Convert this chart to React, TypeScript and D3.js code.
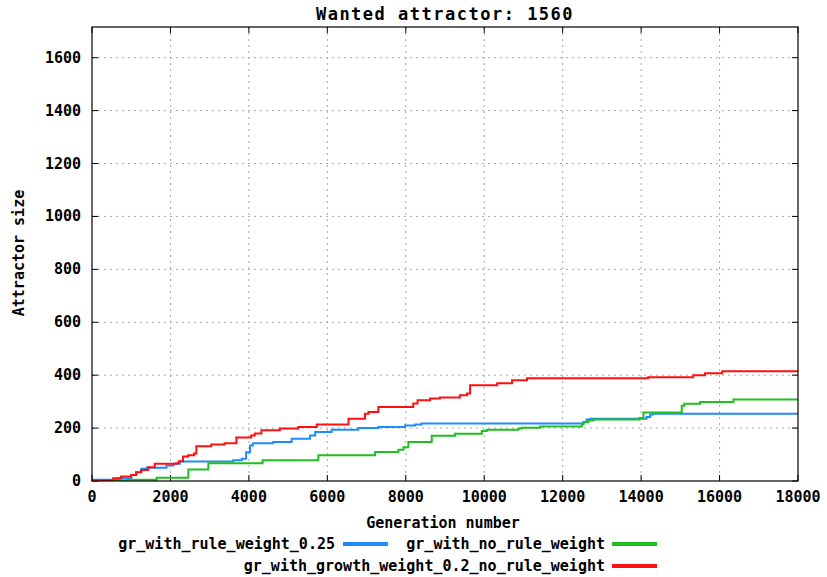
import React from "react";
import * as d3 from "d3";

const title = "Wanted attractor: 1560";
const xTicks = [0, 2000, 4000, 6000, 8000, 10000, 12000, 14000, 16000, 18000];
const yTicks = [0, 200, 400, 600, 800, 1000, 1200, 1400, 1600];

const blueData: [number, number][] = [
  [0, 5], [700, 10], [1000, 23], [1130, 33], [1260, 46], [1390, 50], [1900, 59], [2080, 65],
  [2240, 74], [3600, 78], [3820, 84], [3930, 109], [4030, 134], [4100, 143], [4620, 147],
  [5090, 160], [5560, 172], [5690, 185], [6110, 194], [6790, 200], [7300, 204], [7980, 210],
  [8240, 214], [8400, 217], [12530, 222], [12610, 232], [12700, 235], [14140, 242],
  [14230, 251], [14300, 254], [18000, 254],
];
const greenData: [number, number][] = [
  [0, 3], [920, 5], [1650, 12], [2457, 43], [2967, 67], [4350, 78], [5772, 97], [7217, 110],
  [7812, 118], [7940, 128], [8066, 147], [8662, 171], [9256, 179], [9937, 189], [10065, 194],
  [10871, 198], [10955, 201], [11424, 206], [12487, 214], [12530, 223], [12657, 229],
  [12784, 232], [13957, 238], [14060, 259], [15036, 284], [15100, 292], [15504, 299],
  [16354, 308], [18000, 308],
];
const redData: [number, number][] = [
  [0, 2], [540, 10], [740, 17], [1000, 23], [1125, 33], [1250, 42], [1430, 52], [1600, 65],
  [2150, 67], [2210, 75], [2320, 93], [2450, 97], [2600, 104], [2660, 131], [3040, 138],
  [3380, 143], [3680, 164], [4060, 172], [4150, 180], [4320, 192], [4790, 198], [5260, 204],
  [5730, 214], [6540, 235], [6960, 254], [7050, 261], [7300, 280], [8190, 293], [8300, 305],
  [8620, 312], [8870, 316], [9380, 324], [9560, 331], [9640, 362], [10330, 369], [10710, 381],
  [11090, 388], [14180, 392], [15330, 400], [15630, 407], [16070, 415], [18000, 415],
];

const seriesNames = [
  "gr_with_rule_weight_0.25",
  "gr_with_no_rule_weight",
  "gr_with_growth_weight_0.2_no_rule_weight",
];
const seriesColors = ["#1e8cff", "#1fbf1f", "#ff1010"];

export default function App() {
  const W = 827, H = 577;
  const L = 92, R = 798, T = 27, B = 481;
  const x = d3.scaleLinear().domain([0, 18000]).range([L, R]);
  const y = d3.scaleLinear().domain([0, 1716]).range([B, T]);
  const line = d3
    .line<[number, number]>()
    .x((d) => x(d[0]))
    .y((d) => y(d[1]))
    .curve(d3.curveStepAfter);
  const all = [blueData, greenData, redData];
  const font = "'DejaVu Sans Mono', monospace";
  const legend = [
    { tx: 335, lx: 343, y: 544 },
    { tx: 605, lx: 612, y: 544 },
    { tx: 605, lx: 612, y: 566 },
  ];
  return (
    <svg
      width={W}
      height={H}
      style={{ position: "absolute", left: 0, top: 0, background: "#fff" }}
      fontFamily={font}
      fontWeight="bold"
    >
      <rect x={0} y={0} width={W} height={H} fill="#fff" />
      <defs>
        <clipPath id="plot">
          <rect x={L} y={T} width={R - L} height={B - T} />
        </clipPath>
      </defs>
      {/* grid */}
      {xTicks.slice(1, -1).map((t) => (
        <line key={"gx" + t} x1={x(t)} x2={x(t)} y1={T} y2={B} stroke="#a8a8a8" strokeDasharray="2,4" />
      ))}
      {yTicks.slice(1).map((t) => (
        <line key={"gy" + t} x1={L} x2={R} y1={y(t)} y2={y(t)} stroke="#a8a8a8" strokeDasharray="2,4" />
      ))}
      {/* ticks */}
      {xTicks.map((t) => (
        <g key={"tx" + t}>
          <line x1={x(t)} x2={x(t)} y1={B} y2={B - 6} stroke="#000" />
          <line x1={x(t)} x2={x(t)} y1={T} y2={T + 6} stroke="#000" />
          <text x={x(t)} y={502} textAnchor="middle" fontSize={15} fill="#000">
            {t}
          </text>
        </g>
      ))}
      {yTicks.map((t) => (
        <g key={"ty" + t}>
          <line x1={L} x2={L + 6} y1={y(t)} y2={y(t)} stroke="#000" />
          <line x1={R} x2={R - 6} y1={y(t)} y2={y(t)} stroke="#000" />
          <text x={81} y={y(t) + 5} textAnchor="end" fontSize={15} fill="#000">
            {t}
          </text>
        </g>
      ))}
      {/* series */}
      <g clipPath="url(#plot)">
        {all.map((d, i) => (
          <path key={i} d={line(d) || ""} fill="none" stroke={seriesColors[i]} strokeWidth={2} />
        ))}
      </g>
      <rect x={L} y={T} width={R - L} height={B - T} fill="none" stroke="#000" strokeWidth={1.2} />
      {/* titles */}
      <text x={445} y={20} textAnchor="middle" fontSize={17} letterSpacing={1.5} fill="#000">
        {title}
      </text>
      <text x={443} y={528} textAnchor="middle" fontSize={15} fill="#000">
        Generation number
      </text>
      <text
        transform={`translate(24,253) rotate(-90)`}
        textAnchor="middle"
        fontSize={15}
        fill="#000"
      >
        Attractor size
      </text>
      {/* legend */}
      {seriesNames.map((n, i) => (
        <g key={n}>
          <text x={legend[i].tx} y={legend[i].y + 5} textAnchor="end" fontSize={15} fill="#000">
            {n}
          </text>
          <line
            x1={legend[i].lx}
            x2={legend[i].lx + 45}
            y1={legend[i].y}
            y2={legend[i].y}
            stroke={seriesColors[i]}
            strokeWidth={4}
          />
        </g>
      ))}
    </svg>
  );
}
